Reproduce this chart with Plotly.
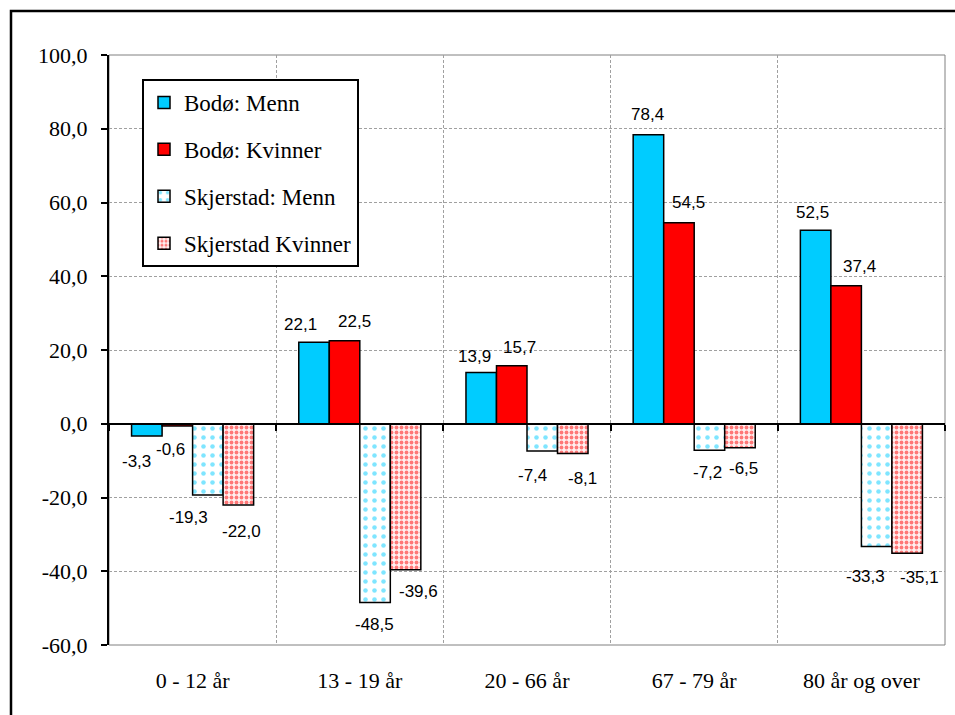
import plotly.graph_objects as go

categories = ["0 - 12 år", "13 - 19 år", "20 - 66 år", "67 - 79 år", "80 år og over"]
bodo_menn = [-3.3, 22.1, 13.9, 78.4, 52.5]
bodo_kvinner = [-0.6, 22.5, 15.7, 54.5, 37.4]
skjerstad_menn = [-19.3, -48.5, -7.4, -7.2, -33.3]
skjerstad_kvinner = [-22.0, -39.6, -8.1, -6.5, -35.1]
series_names = ["Bodø: Menn", "Bodø: Kvinner", "Skjerstad: Menn", "Skjerstad Kvinner"]
y_ticks = [-60, -40, -20, 0, 20, 40, 60, 80, 100]
y_tick_text = ["-60,0", "-40,0", "-20,0", "0,0", "20,0", "40,0", "60,0", "80,0", "100,0"]

# label nudges (pixels) per series: horizontal shift and distance from bar end
label_dx = [[-10, -14, -7, -1, -3], [-7, 10, 8, 10, 13], [-19, -1, -10, -2, -11], [3, 13, 10, 4, 12]]
label_dy = [[26, 18, 16, 20, 18], [24, 19, 18, 20, 19], [23, 22, 24, 22, 30], [27, 22, 25, 21, 24]]

W, H = 955, 715
ML, MR, MT, MB = 109, 10, 55, 70
PW, PH = W - ML - MR, H - MT - MB
BARGAP = 0.27

CYAN = "#00CCFF"
RED = "#FF0000"
SERIF = "Liberation Serif, Times New Roman, serif"
SANS = "Liberation Sans, Arial, sans-serif"

all_series = [bodo_menn, bodo_kvinner, skjerstad_menn, skjerstad_kvinner]
markers = [
    dict(color=CYAN, line=dict(color="black", width=1.5)),
    dict(color=RED, line=dict(color="black", width=1.5)),
    dict(color="white", line=dict(color="black", width=1.5),
         pattern=dict(shape=".", fgcolor=CYAN, bgcolor="white", size=9, solidity=0.2)),
    dict(color="white", line=dict(color="black", width=1.5),
         pattern=dict(shape=".", fgcolor=RED, bgcolor="#FFF0F0", size=5, solidity=0.45)),
]

fig = go.Figure()
for i, (name, vals, mk) in enumerate(zip(series_names, all_series, markers)):
    fig.add_trace(go.Bar(x=categories, y=vals, name=name, marker=mk,
                         legendgroup=f"g{i}", hoverinfo="skip"))

# invisible trace for the zero-crossing category axis
fig.add_trace(go.Scatter(x=categories, y=[None] * len(categories), xaxis="x2",
                         showlegend=False, hoverinfo="skip", mode="markers"))

cat_w = PW / len(categories)
bar_w = cat_w * (1 - BARGAP) / 4
annotations = []
for i, vals in enumerate(all_series):
    off = (i - 1.5) * bar_w
    for j, v in enumerate(vals):
        sign = 1 if v >= 0 else -1
        annotations.append(dict(
            x=categories[j], y=v, xref="x", yref="y",
            text=f"{v:.1f}".replace(".", ","), showarrow=False,
            xanchor="center", yanchor="middle",
            xshift=off + label_dx[i][j], yshift=sign * label_dy[i][j],
            font=dict(family=SANS, size=17, color="black")))

shapes = [
    # plot area border
    dict(type="rect", xref="paper", yref="paper", x0=0, y0=0, x1=1, y1=1,
         line=dict(color="#808080", width=1), layer="below"),
    # outer chart border
    dict(type="rect", xref="paper", yref="paper",
         x0=(11 - ML) / PW, x1=1 + (965 - (W - MR)) / PW,
         y0=-(725 - (H - MB)) / PH, y1=1 + (MT - 11) / PH,
         line=dict(color="black", width=2.5)),
]

fig.update_layout(
    width=W, height=H,
    margin=dict(l=ML, r=MR, t=MT, b=MB, pad=0),
    paper_bgcolor="white", plot_bgcolor="white",
    barmode="group", bargap=BARGAP, bargroupgap=0,
    separators=", ",
    showlegend=True,
    legend=dict(x=(142 - ML) / PW, y=1 - (79 - MT) / PH, xanchor="left", yanchor="top",
                bgcolor="white", bordercolor="black", borderwidth=2,
                font=dict(family=SERIF, size=23, color="black"),
                tracegroupgap=14, traceorder="grouped"),
    xaxis=dict(type="category", range=[-0.5, 4.5], tickson="boundaries",
               showgrid=True, gridcolor="#A0A0A0", griddash="3px,2px", gridwidth=1,
               ticks="", showline=False, zeroline=False,
               tickfont=dict(family=SERIF, size=22, color="black"),
               ticklabelstandoff=20),
    xaxis2=dict(type="category", range=[-0.5, 4.5], overlaying="x", anchor="free",
                position=(0 - (-60)) / (100 - (-60)), side="bottom",
                tickson="boundaries", ticks="outside", ticklen=6, tickwidth=1.5,
                tickcolor="black", showline=True, linecolor="black", linewidth=2,
                showticklabels=False, showgrid=False, zeroline=False),
    yaxis=dict(range=[-60, 100], tickvals=y_ticks, ticktext=y_tick_text,
               showgrid=True, gridcolor="#A0A0A0", griddash="3px,2px", gridwidth=1,
               zeroline=False, showline=True, linecolor="black", linewidth=2,
               ticks="outside", ticklen=6, tickwidth=1.5, tickcolor="black",
               tickfont=dict(family=SERIF, size=22, color="black"),
               ticklabelstandoff=9),
    annotations=annotations,
    shapes=shapes,
)

fig.write_html("out.html")
